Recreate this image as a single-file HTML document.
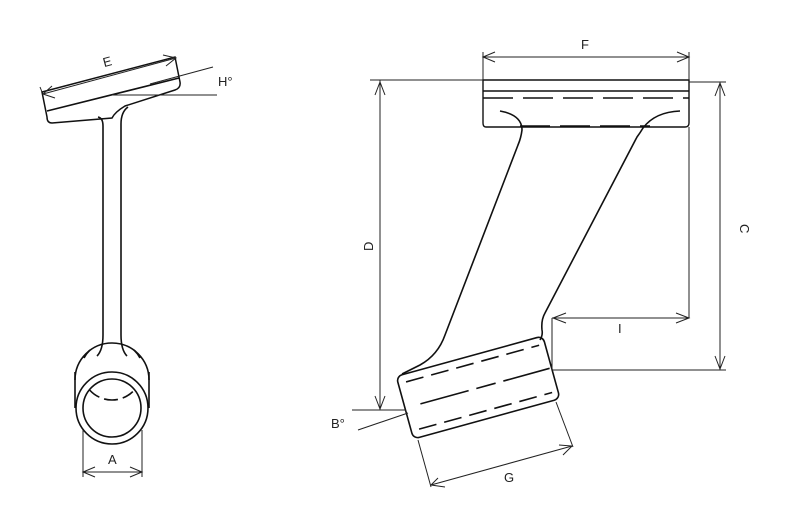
<!DOCTYPE html>
<html><head><meta charset="utf-8"><style>
html,body{margin:0;padding:0;background:#fff;width:807px;height:529px;overflow:hidden}
text{font-family:"Liberation Sans",sans-serif;font-size:13px;fill:#222}
</style></head><body>
<svg width="807" height="529" viewBox="0 0 807 529" xmlns="http://www.w3.org/2000/svg">
<g fill="none" stroke="#111" stroke-width="1.6">
<!-- LEFT VIEW plate -->
<path d="M42,92 L175,57 L180,82 Q181,88 175,90 L125,106 Q115,112 112,118 L52,123 Q47,123 47,117 Z" stroke-width="1.5"/>
<line x1="47" y1="111" x2="179" y2="78"/>
<path d="M98,117 Q103,118 103,126 L103,335"/>
<path d="M128,107 Q121,112 121,124 L121,335"/>
<!-- upper circle -->
<path d="M75,380 A37,37 0 0 1 149,380"/>
<path d="M103,335 Q103,350 97,356"/>
<path d="M121,335 Q121,350 127,356"/>
<path d="M90,350 A30,30 0 0 0 84,358"/>
<path d="M134,350 A30,30 0 0 1 140,358"/>
<path d="M82,370 A30,30 0 0 0 142,370" stroke-dasharray="0,22,12,5,14,5,12,100"/>
<circle cx="112" cy="408" r="36"/>
<circle cx="112" cy="408" r="29"/>
<line x1="75" y1="372" x2="75" y2="408"/>
<line x1="149" y1="372" x2="149" y2="408"/>
</g>
<g fill="none" stroke="#222" stroke-width="1">
<line x1="43" y1="94" x2="176" y2="58"/>
<path d="M55,98 L43,94 L52,86"/>
<path d="M163,55 L176,58 L166,66"/>
<line x1="42" y1="92" x2="40" y2="87"/>
<line x1="112" y1="95" x2="217" y2="95"/>
<line x1="150" y1="84" x2="213" y2="67"/>
<line x1="83" y1="430" x2="83" y2="477"/>
<line x1="142" y1="430" x2="142" y2="477"/>
<line x1="83" y1="472" x2="142" y2="472"/>
<path d="M95,467 L83,472 L95,477"/>
<path d="M130,467 L142,472 L130,477"/>
</g>
<text x="103" y="66" transform="rotate(-15 108 62)">E</text>
<text x="218" y="86">H°</text>
<text x="108" y="464">A</text>

<g fill="none" stroke="#111" stroke-width="1.6">
<path d="M483,80 L689,80 L689,123 Q689,127 685,127 L486,127 Q483,127 483,123 Z" stroke-width="1.4"/>
<line x1="483" y1="91" x2="689" y2="91"/>
<line x1="483" y1="98" x2="689" y2="98" stroke-dasharray="30,10"/>
<line x1="520" y1="126" x2="650" y2="126" stroke-dasharray="30,10"/>
<path d="M500,111 Q522,115 522,130 Q521,138 518,145 L445,335 Q438,355 420,365 Q410,370 402,374"/>
<path d="M680,111 Q655,112 643,128 Q640,133 637,137 L545,313 Q541,320 542,330 Q543,335 540,340"/>
<g transform="rotate(-15.4 478 387)">
<rect x="402" y="355" width="152" height="65" rx="6"/>
<line x1="410" y1="363" x2="548" y2="363" stroke-dasharray="18,8"/>
<line x1="418" y1="388" x2="552" y2="388" stroke-dasharray="50,8,20,8"/>
<line x1="410" y1="412" x2="548" y2="412" stroke-dasharray="18,8"/>
</g>
</g>
<g fill="none" stroke="#222" stroke-width="1">
<line x1="483" y1="52" x2="483" y2="80"/>
<line x1="689" y1="52" x2="689" y2="80"/>
<line x1="483" y1="57" x2="689" y2="57"/>
<path d="M495,52 L483,57 L495,62"/>
<path d="M677,52 L689,57 L677,62"/>
<line x1="370" y1="80" x2="483" y2="80"/>
<line x1="380" y1="80" x2="380" y2="410"/>
<path d="M375,95 L380,82 L385,95"/>
<path d="M375,396 L380,409 L385,396"/>
<line x1="352" y1="410" x2="406" y2="410"/>
<line x1="358" y1="430" x2="408" y2="413"/>
<line x1="689" y1="82" x2="726" y2="82"/>
<line x1="720" y1="82" x2="720" y2="370"/>
<path d="M715,96 L720,83 L725,96"/>
<path d="M715,356 L720,369 L725,356"/>
<line x1="552" y1="370" x2="726" y2="370"/>
<line x1="689" y1="127" x2="689" y2="318"/>
<line x1="552" y1="318" x2="689" y2="318"/>
<line x1="552" y1="318" x2="552" y2="370"/>
<path d="M566,313 L553,318 L566,323"/>
<path d="M676,313 L689,318 L676,323"/>
<line x1="418" y1="440" x2="431" y2="487"/>
<line x1="556" y1="402" x2="573" y2="447"/>
<line x1="431" y1="485" x2="572" y2="446"/>
<path d="M438,478 L431,485 L445,487"/>
<path d="M559,445 L572,446 L563,455"/>
</g>
<text x="581" y="49">F</text>
<text x="731" y="223" transform="rotate(90 735 228)">C</text>
<text x="362" y="250" transform="rotate(-90 368 245)">D</text>
<text x="618" y="333">I</text>
<text x="504" y="482">G</text>
<text x="331" y="428">B°</text>
</svg>
</body></html>
